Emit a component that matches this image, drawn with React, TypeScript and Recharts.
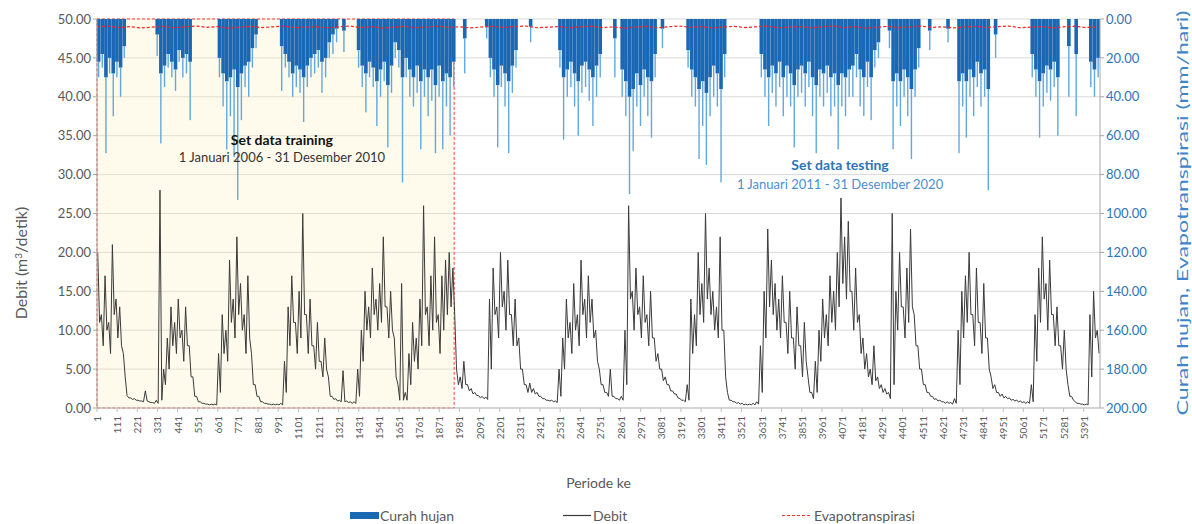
import {
  Bar,
  CartesianGrid,
  ComposedChart,
  Legend,
  Line,
  ReferenceArea,
  ReferenceDot,
  XAxis,
  YAxis,
} from "recharts";

// one reading per 20-day block
const STEP = 20;

// debit: upper and lower edge of the trace inside each block
const debitAtas = [
  20, 12, 17, 11, 21, 14, 13, 7, 1.6, 1.3,
  1.2, 1.0, 0.9, 2.2, 0.8, 0.7, 1.0, 28, 5, 9,
  13, 11, 14, 10, 13, 8, 4, 1.5, 0.8, 0.6,
  0.5, 0.5, 0.5, 7, 12, 10, 19, 14, 22, 16,
  12, 17, 7, 3, 1.5, 0.8, 0.6, 0.5, 0.5, 0.5,
  0.6, 6, 13, 17, 11, 15, 25, 12, 14, 8,
  11, 6, 9, 4, 1.5, 1.2, 1.0, 4.8, 0.9, 0.8,
  0.8, 5, 10, 15, 13, 18, 14, 16, 22, 13,
  15, 9, 3, 16, 2, 7, 11, 9, 14, 26,
  13, 17, 22, 12, 17, 19, 20, 18, 5, 4,
  6, 3, 2.5, 2, 1.6, 1.5, 1.4, 14, 18, 13,
  20, 15, 19, 12, 14, 9, 5, 3, 3.2, 2.5,
  2, 1.5, 1.2, 1.0, 1.0, 0.9, 5, 9, 14, 11,
  16, 12, 19, 14, 17, 14, 10, 5, 3, 2,
  5, 1.5, 1.2, 1.5, 10, 26, 15, 18, 13, 17,
  12, 15, 9, 7, 5, 4, 3, 2.2, 1.8, 1.2,
  1.0, 3, 14, 12, 20, 16, 25, 18, 15, 13,
  22, 10, 2, 1, 0.8, 0.7, 0.6, 0.5, 0.5, 0.6,
  0.8, 8, 15, 23, 19, 16, 14, 17, 11, 15,
  9, 13, 8, 11, 4, 2, 6, 10, 14, 12,
  17, 15, 20, 27, 22, 24, 15, 18, 12, 9,
  7, 5, 8, 4, 3, 2.5, 2, 25, 15, 20,
  13, 18, 23, 12, 8, 5, 3, 2, 1.5, 1.2,
  1, 0.8, 0.8, 0.7, 1.2, 10, 15, 17, 20, 12,
  18, 11, 16, 9, 4, 3, 2, 1.8, 1.5, 1.3,
  1.1, 1.0, 0.9, 0.8, 0.8, 3, 12, 18, 22, 16,
  19, 12, 13, 8, 10, 3, 1.5, 0.8, 0.6, 0.5,
  0.5, 12, 15, 10,
];

const debitBawah = [
  11, 8, 10, 7, 12, 9, 8, 4, 1.3, 1.1,
  1.0, 0.9, 0.8, 0.9, 0.7, 0.6, 0.6, 1.0, 3, 5,
  8, 7, 9, 6, 8, 4, 1.5, 0.8, 0.6, 0.5,
  0.4, 0.4, 0.4, 2, 7, 6, 11, 9, 12, 10,
  7, 9, 3, 1.5, 0.8, 0.6, 0.5, 0.4, 0.4, 0.4,
  0.4, 2, 8, 11, 7, 9, 12, 7, 8, 5,
  6, 4, 5, 1.5, 1.1, 0.9, 0.8, 0.8, 0.7, 0.6,
  0.6, 1.5, 6, 10, 9, 12, 10, 11, 13, 9,
  10, 4, 1, 1, 1, 3, 6, 5, 8, 12,
  8, 10, 11, 7, 10, 12, 13, 12, 3, 2.5,
  3, 2.2, 1.8, 1.6, 1.3, 1.2, 1.1, 5, 12, 9,
  13, 10, 12, 8, 8, 5, 3, 2, 2, 1.8,
  1.5, 1.2, 1.0, 0.9, 0.8, 0.7, 1.5, 5, 9, 7,
  10, 8, 12, 9, 11, 9, 6, 3, 2, 1.5,
  1.5, 1.2, 1.0, 1.0, 3, 14, 10, 12, 9, 11,
  8, 9, 6, 5, 3.5, 3, 2.2, 1.8, 1.3, 1.0,
  0.8, 1.0, 7, 8, 12, 11, 14, 12, 10, 9,
  10, 4, 1, 0.8, 0.6, 0.5, 0.4, 0.4, 0.4, 0.4,
  0.5, 2, 9, 13, 12, 10, 9, 11, 7, 9,
  5, 8, 4, 6, 2, 1.2, 2, 6, 9, 8,
  11, 10, 13, 16, 14, 15, 10, 11, 7, 5,
  4, 3, 3.5, 2.5, 2, 1.8, 1.2, 3, 10, 13,
  9, 11, 13, 8, 5, 3, 2, 1.5, 1.1, 0.9,
  0.8, 0.6, 0.6, 0.5, 0.6, 3, 9, 11, 12, 8,
  11, 7, 9, 5, 2.5, 2, 1.5, 1.3, 1.2, 1.0,
  0.9, 0.8, 0.7, 0.6, 0.6, 0.8, 6, 11, 14, 10,
  12, 8, 8, 5, 5, 1.5, 1.0, 0.6, 0.5, 0.4,
  0.4, 4, 9, 7,
];

// curah hujan: deepest single bar and depth of the dense fill in each block
const hujanPuncak = [
  30, 25, 69, 28, 50, 30, 40, 20, 0, 0,
  0, 0, 0, 0, 0, 0, 19, 64, 35, 25,
  30, 37, 22, 30, 28, 52, 0, 0, 0, 0,
  0, 0, 0, 30, 45, 67, 50, 71, 93, 52,
  35, 40, 25, 15, 0, 0, 0, 0, 0, 0,
  37, 25, 30, 40, 35, 38, 53, 35, 30, 28,
  25, 38, 30, 20, 18, 12, 0, 17, 0, 0,
  0, 25, 35, 48, 30, 35, 55, 40, 32, 66,
  38, 20, 25, 84, 30, 40, 45, 38, 67, 40,
  50, 42, 69, 40, 67, 45, 60, 35, 0, 0,
  28, 0, 0, 0, 0, 0, 10, 30, 40, 66,
  35, 45, 69, 38, 25, 0, 0, 0, 12, 0,
  0, 0, 0, 0, 0, 0, 25, 62, 40, 35,
  45, 60, 38, 35, 42, 55, 40, 30, 0, 0,
  0, 30, 0, 40, 50, 90, 68, 45, 55, 40,
  50, 61, 30, 0, 15, 0, 0, 0, 0, 0,
  0, 25, 40, 45, 72, 55, 75, 50, 40, 45,
  84, 30, 0, 0, 0, 0, 0, 0, 0, 0,
  0, 30, 40, 55, 38, 45, 35, 50, 40, 45,
  66, 40, 38, 45, 35, 50, 69, 40, 45, 38,
  50, 45, 67, 45, 50, 40, 40, 30, 45, 50,
  35, 52, 25, 20, 0, 0, 15, 67, 45, 55,
  40, 50, 72, 40, 25, 0, 0, 16, 0, 0,
  0, 0, 12, 0, 0, 69, 45, 61, 40, 50,
  35, 45, 40, 88, 0, 20, 0, 0, 0, 0,
  0, 0, 0, 0, 0, 30, 40, 61, 45, 38,
  42, 35, 60, 0, 0, 40, 0, 50, 0, 0,
  0, 35, 40, 30,
];

const hujanPadat = [
  22, 18, 30, 20, 28, 22, 25, 14, 0, 0,
  0, 0, 0, 0, 0, 0, 8, 28, 24, 18,
  22, 26, 16, 20, 18, 22, 0, 0, 0, 0,
  0, 0, 0, 20, 28, 32, 30, 26, 35, 28,
  24, 22, 15, 8, 0, 0, 0, 0, 0, 0,
  14, 18, 22, 28, 24, 26, 30, 24, 20, 18,
  16, 22, 20, 12, 8, 5, 0, 6, 0, 0,
  0, 16, 24, 28, 22, 25, 32, 26, 22, 34,
  24, 12, 16, 30, 20, 26, 30, 24, 32, 26,
  30, 26, 34, 24, 32, 28, 30, 22, 0, 0,
  10, 0, 0, 0, 0, 0, 4, 20, 26, 34,
  24, 28, 32, 24, 16, 0, 0, 0, 4, 0,
  0, 0, 0, 0, 0, 0, 16, 30, 26, 22,
  28, 32, 24, 22, 26, 30, 24, 18, 0, 0,
  0, 10, 0, 26, 32, 40, 36, 28, 34, 26,
  30, 32, 18, 0, 5, 0, 0, 0, 0, 0,
  0, 16, 26, 30, 36, 32, 38, 30, 24, 28,
  36, 18, 0, 0, 0, 0, 0, 0, 0, 0,
  0, 18, 26, 30, 24, 28, 22, 30, 24, 28,
  34, 26, 24, 28, 22, 30, 34, 26, 28, 24,
  30, 28, 34, 28, 30, 26, 24, 18, 26, 30,
  22, 30, 16, 12, 0, 0, 6, 32, 28, 32,
  26, 30, 36, 26, 15, 0, 0, 6, 0, 0,
  0, 0, 5, 0, 0, 32, 28, 32, 26, 30,
  22, 28, 26, 36, 0, 8, 0, 0, 0, 0,
  0, 0, 0, 0, 0, 18, 26, 32, 28, 24,
  26, 22, 30, 0, 0, 14, 0, 18, 0, 0,
  0, 22, 26, 20,
];

// evapotranspirasi, one reading per 60 days
const EVAP_STEP = 60;
const evapotranspirasi = [
  4.1, 3.7, 4.4, 3.9, 4.6, 4.2, 3.8, 4.5, 4.0, 3.6, 4.3, 3.9, 4.7, 4.1, 3.8, 4.4, 4.0, 3.7, 4.5, 4.2,
  3.9, 4.6, 4.0, 3.6, 4.4, 3.9, 4.7, 4.2, 3.8, 4.5, 4.1, 3.7, 4.3, 4.0, 4.6, 4.1, 3.8, 4.4, 3.9, 3.6,
  4.5, 4.2, 3.9, 4.6, 4.0, 3.7, 4.4, 4.1, 4.7, 4.2, 3.8, 4.5, 4.0, 3.6, 4.3, 3.9, 4.6, 4.1, 3.8, 4.4,
  4.0, 3.7, 4.5, 4.2, 3.9, 4.6, 4.0, 3.6, 4.4, 3.9, 4.7, 4.2, 3.8, 4.5, 4.1, 3.7, 4.3, 4.0, 4.6, 4.1,
  3.8, 4.4, 3.9, 3.6, 4.5, 4.2, 3.9, 4.6, 4.0, 3.7, 4.4, 4.1,
];

const xTicks = [
  1, 111, 221, 331, 441, 551, 661, 771, 881, 991,
  1101, 1211, 1321, 1431, 1541, 1651, 1761, 1871, 1981, 2091,
  2201, 2311, 2421, 2531, 2641, 2751, 2861, 2971, 3081, 3191,
  3301, 3411, 3521, 3631, 3741, 3851, 3961, 4071, 4181, 4291,
  4401, 4511, 4621, 4731, 4841, 4951, 5061, 5171, 5281, 5391,
];
const debitTicks = [0, 5, 10, 15, 20, 25, 30, 35, 40, 45, 50];
const hujanTicks = [0, 20, 40, 60, 80, 100, 120, 140, 160, 180, 200];

const LAST_PERIOD = 5480;
const TRAINING_END = 1952;

const rainData = hujanPuncak.map((v, i) => ({
  p: 10 + i * STEP,
  padat: hujanPadat[i],
  sisa: Math.max(0, v - hujanPadat[i]),
}));
const debitData = debitAtas.flatMap((hi, i) => [
  { p: 5 + i * STEP, debit: hi },
  { p: 15 + i * STEP, debit: debitBawah[i] },
]);
const evapData = evapotranspirasi.map((e, i) => ({ p: 1 + i * EVAP_STEP, evap: e }));

const FONT = "Lato, 'Noto Sans', sans-serif";
const GRAY = "#595959";
const BLUE = "#2e75b6";
const RAIN_DARK = "#1a68b4";
const RAIN_LIGHT = "#62a8de";

function XTick({ x, y, payload }: any) {
  return (
    <text
      x={x}
      y={y + 2}
      transform={`rotate(-90, ${x}, ${y + 2})`}
      textAnchor="end"
      dominantBaseline="central"
      fontSize={10}
      fill={GRAY}
      fontFamily={FONT}
    >
      {payload.value}
    </text>
  );
}

// the part below the dense fill is drawn as a thin streak
function Streak(props: any) {
  const { x, y, width, height } = props;
  if (!height || !width) return null;
  return (
    <rect
      x={x + width / 2 - 0.7}
      y={Math.min(y, y + height)}
      width={1.4}
      height={Math.abs(height)}
      fill={RAIN_LIGHT}
    />
  );
}

function LegendBox() {
  const item = { position: "absolute" as const, top: 0, display: "flex", alignItems: "center" };
  return (
    <div style={{ position: "relative", width: 1192, height: 18, fontFamily: FONT, fontSize: 14, color: GRAY }}>
      <div style={{ ...item, left: 350 }}>
        <svg width={30} height={18}>
          <rect x={0} y={6} width={29} height={7} fill={RAIN_DARK} />
        </svg>
        <span>Curah hujan</span>
      </div>
      <div style={{ ...item, left: 563 }}>
        <svg width={30} height={18}>
          <line x1={0} x2={28} y1={9.5} y2={9.5} stroke="#3a3a3a" strokeWidth={1.2} />
        </svg>
        <span>Debit</span>
      </div>
      <div style={{ ...item, left: 782 }}>
        <svg width={32} height={18}>
          <line x1={0} x2={29} y1={9.5} y2={9.5} stroke="#ff3030" strokeWidth={1.2} strokeDasharray="3 2" />
        </svg>
        <span>Evapotranspirasi</span>
      </div>
    </div>
  );
}

export default function App() {
  return (
    <div style={{ position: "absolute", left: 0, top: 0, width: 1192, height: 524, background: "#fff" }}>
      <ComposedChart
        width={1192}
        height={524}
        data={rainData}
        margin={{ top: 19, right: 32, bottom: 66, left: 37 }}
      >
        <ReferenceArea
          yAxisId="debit"
          x1={1}
          x2={TRAINING_END}
          y1={0}
          y2={50}
          fill="#fbeeb8"
          fillOpacity={0.25}
          stroke="#ff4040"
          strokeDasharray="3 2"
          strokeWidth={1}
        />
        <CartesianGrid yAxisId="debit" vertical={false} stroke="#d9d9d9" />
        <XAxis
          dataKey="p"
          type="number"
          domain={[1, LAST_PERIOD]}
          ticks={xTicks}
          interval={0}
          height={50}
          tick={<XTick />}
          tickSize={4}
          axisLine={{ stroke: "#bfbfbf" }}
          tickLine={{ stroke: "#bfbfbf" }}
          label={{
            content: (props: any) => (
              <text
                x={props.viewBox.x + props.viewBox.width / 2}
                y={488}
                textAnchor="middle"
                fontSize={14}
                fill={GRAY}
                fontFamily={FONT}
              >
                Periode ke
              </text>
            ),
          }}
        />
        {/* same scale, kept apart so the fine debit/evap points do not shrink the bars */}
        <XAxis xAxisId="garis" dataKey="p" type="number" domain={[1, LAST_PERIOD]} hide />
        <YAxis
          yAxisId="debit"
          domain={[0, 50]}
          ticks={debitTicks}
          width={60}
          tickFormatter={(v: number) => v.toFixed(2)}
          tick={{ fontSize: 13, fill: GRAY, fontFamily: FONT }}
          tickSize={4}
          axisLine={{ stroke: "#a6a6a6" }}
          tickLine={{ stroke: "#a6a6a6" }}
          label={{
            content: () => (
              <text
                x={27}
                y={263}
                transform="rotate(-90, 27, 263)"
                textAnchor="middle"
                fontSize={16}
                fill={GRAY}
                fontFamily={FONT}
              >
                Debit (m<tspan dy={-5} fontSize={10}>3</tspan>
                <tspan dy={5}>/detik)</tspan>
              </text>
            ),
          }}
        />
        <YAxis
          yAxisId="rain"
          orientation="right"
          reversed
          domain={[0, 200]}
          ticks={hujanTicks}
          width={60}
          tickFormatter={(v: number) => v.toFixed(2)}
          tick={{ fontSize: 13, fill: BLUE, fontFamily: FONT }}
          tickSize={4}
          axisLine={{ stroke: "#a6a6a6" }}
          tickLine={{ stroke: "#a6a6a6" }}
          label={{
            content: () => (
              <text
                x={1181}
                y={213}
                transform="rotate(-90, 1181, 213)"
                textAnchor="middle"
                dominantBaseline="central"
                fontSize={16}
                fill="#3f86c8"
                fontFamily={FONT}
                textLength={405}
                lengthAdjust="spacingAndGlyphs"
              >
                Curah hujan, Evapotranspirasi (mm/hari)
              </text>
            ),
          }}
        />
        <Line
          xAxisId="garis"
          yAxisId="rain"
          data={evapData}
          dataKey="evap"
          stroke="#ff2020"
          strokeWidth={1.2}
          strokeDasharray="3 2"
          dot={false}
          isAnimationActive={false}
        />
        <Bar
          yAxisId="rain"
          dataKey="padat"
          stackId="hujan"
          barSize={3.6}
          fill={RAIN_DARK}
          isAnimationActive={false}
        />
        <Bar
          yAxisId="rain"
          dataKey="sisa"
          stackId="hujan"
          barSize={3.6}
          shape={<Streak />}
          isAnimationActive={false}
        />
        <Line
          xAxisId="garis"
          yAxisId="debit"
          data={debitData}
          dataKey="debit"
          type="linear"
          stroke="#3a3a3a"
          strokeWidth={1}
          dot={false}
          isAnimationActive={false}
        />
        <ReferenceDot
          yAxisId="debit"
          x={1011}
          y={34.4}
          r={0}
          fill="none"
          stroke="none"
          label={{ value: "Set data training", position: "center", fontSize: 14, fontWeight: 700, fill: "#111", fontFamily: FONT }}
        />
        <ReferenceDot
          yAxisId="debit"
          x={1011}
          y={32.2}
          r={0}
          fill="none"
          stroke="none"
          label={{ value: "1 Januari 2006 - 31 Desember 2010", position: "center", fontSize: 13, fill: "#333", fontFamily: FONT }}
        />
        <ReferenceDot
          yAxisId="debit"
          x={4060}
          y={31.2}
          r={0}
          fill="none"
          stroke="none"
          label={{ value: "Set data testing", position: "center", fontSize: 14, fontWeight: 700, fill: BLUE, fontFamily: FONT }}
        />
        <ReferenceDot
          yAxisId="debit"
          x={4060}
          y={28.8}
          r={0}
          fill="none"
          stroke="none"
          label={{ value: "1 Januari 2011 - 31 Desember 2020", position: "center", fontSize: 13, fill: "#4a8fd0", fontFamily: FONT }}
        />
        <Legend
          layout="vertical"
          align="center"
          verticalAlign="middle"
          wrapperStyle={{ top: 506, left: 0, width: 1192 }}
          content={() => <LegendBox />}
        />
      </ComposedChart>
    </div>
  );
}
